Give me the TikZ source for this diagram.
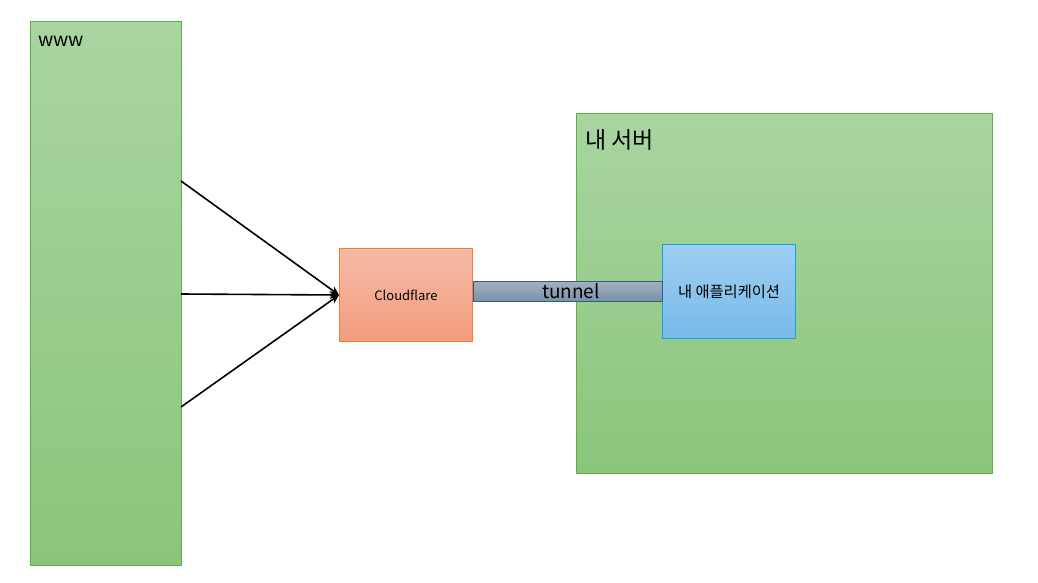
\documentclass[tikz,border=0pt]{standalone}
\usepackage{fontspec}
\setmainfont{Noto Sans CJK KR}
\usetikzlibrary{arrows.meta}
\definecolor{gtop}{HTML}{A9D5A0}
\definecolor{gbot}{HTML}{8AC57B}
\definecolor{gline}{HTML}{5DB043}
\definecolor{otop}{HTML}{F5BBA6}
\definecolor{obot}{HTML}{F49C7E}
\definecolor{oline}{HTML}{ED7D31}
\definecolor{btop}{HTML}{9ECEF3}
\definecolor{bbot}{HTML}{78BAE8}
\definecolor{bline}{HTML}{1BA1E2}
\definecolor{ttop}{HTML}{A3B1C0}
\definecolor{tbot}{HTML}{7A91A9}
\definecolor{tline}{HTML}{2F5F85}
\tikzset{
  greenbox/.style={draw=gline, line width=1pt, top color=gtop, bottom color=gbot, inner sep=0pt},
  cfbox/.style={draw=oline, line width=1pt, top color=otop, bottom color=obot, inner sep=0pt},
  appbox/.style={draw=bline, line width=1pt, top color=btop, bottom color=bbot, inner sep=0pt},
  tunbar/.style={draw=tline, line width=1pt, top color=ttop, bottom color=tbot},
  conn/.style={line width=1.6pt, -{Stealth[length=9pt,width=8pt]}}
}
\begin{document}
\begin{tikzpicture}[x=1pt,y=-1pt]
\useasboundingbox (0,0) rectangle (1038,583);
\node[greenbox, minimum width=151pt, minimum height=544pt, anchor=north west] (www) at (30,21) {};
\node[anchor=west, inner sep=0pt, font=\fontsize{19}{19}\selectfont] (wwwlabel) at (38,41) {www};
\node[greenbox, minimum width=416pt, minimum height=360pt, anchor=north west] (server) at (576,113) {};
\node[anchor=west, inner sep=0pt, font=\fontsize{23}{23}\selectfont] (serverlabel) at (585,140) {내 서버};
\node[cfbox, minimum width=133pt, minimum height=93pt, anchor=north west, font=\fontsize{13}{13}\selectfont] (cf) at (339,248) {Cloudflare};
\node[appbox, minimum width=133pt, minimum height=94pt, anchor=north west, font=\fontsize{15.3}{15.3}\selectfont] (app) at (662,244) {내 애플리케이션};
\path[tunbar] (cf.east |- 0,281) rectangle (app.west |- 0,301);
\node[font=\fontsize{19}{19}\selectfont, inner sep=0pt] (tun) at (571,291) {tunnel};
\coordinate (s1) at (181,181);
\coordinate (s2) at (181,294);
\coordinate (s3) at (181,407);
\coordinate (t) at (cf.west);
\draw[conn] (s1) -- (t);
\draw[conn] (s2) -- (t);
\draw[conn] (s3) -- (t);
\end{tikzpicture}
\end{document}
